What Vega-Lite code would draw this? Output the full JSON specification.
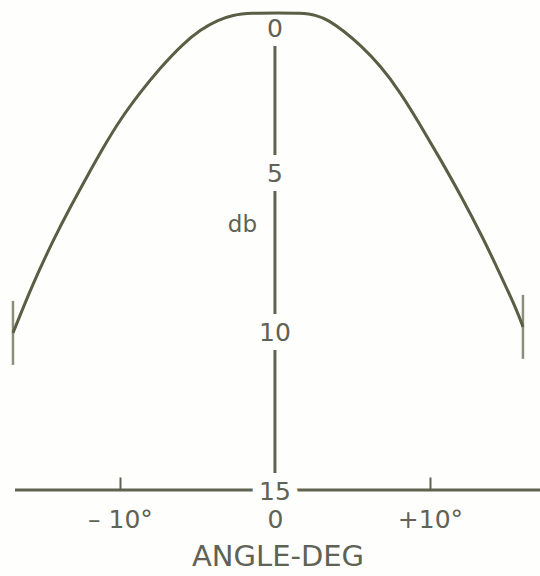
{
  "$schema": "https://vega.github.io/schema/vega-lite/v6.json",
  "width": 525,
  "height": 490,
  "autosize": {"type": "none"},
  "padding": {"left": 15, "top": 0, "right": 0, "bottom": 86},
  "background": "#fefefc",
  "config": {"view": {"stroke": null}, "font": "DejaVu Sans"},
  "data": {"values": [{}]},
  "datasets": {
    "curve": [
      {"angle": -16.9, "db": 10.06},
      {"angle": -15.6, "db": 8.49},
      {"angle": -14.3, "db": 7.14},
      {"angle": -13.2, "db": 6.1},
      {"angle": -12.1, "db": 5.12},
      {"angle": -11.1, "db": 4.25},
      {"angle": -10.0, "db": 3.36},
      {"angle": -8.7, "db": 2.5},
      {"angle": -7.4, "db": 1.72},
      {"angle": -5.9, "db": 0.95},
      {"angle": -4.8, "db": 0.52},
      {"angle": -3.7, "db": 0.22},
      {"angle": -2.7, "db": 0.06},
      {"angle": -1.6, "db": 0.0},
      {"angle": 0.3, "db": 0.0},
      {"angle": 1.6, "db": 0.0},
      {"angle": 2.7, "db": 0.06},
      {"angle": 3.5, "db": 0.24},
      {"angle": 4.4, "db": 0.55},
      {"angle": 5.5, "db": 1.0},
      {"angle": 6.8, "db": 1.65},
      {"angle": 8.1, "db": 2.5},
      {"angle": 9.35, "db": 3.5},
      {"angle": 10.65, "db": 4.58},
      {"angle": 11.95, "db": 5.7},
      {"angle": 13.4, "db": 7.05},
      {"angle": 14.5, "db": 8.18},
      {"angle": 15.6, "db": 9.34},
      {"angle": 16.0, "db": 9.87}
    ],
    "labels": [
      {"db": 0, "label": "0"},
      {"db": 5, "label": "5"},
      {"db": 10, "label": "10"},
      {"db": 15, "label": "15"}
    ]
  },
  "layer": [
    {
      "mark": {"type": "rule", "stroke": "#5f634f", "strokeWidth": 3},
      "encoding": {
        "y": {"datum": 15, "type": "quantitative", "scale": {"domain": [-0.41, 15], "reverse": true, "nice": false, "zero": false}, "axis": null}
      }
    },
    {
      "mark": {"type": "rule", "stroke": "#5f634f", "strokeWidth": 3},
      "encoding": {
        "x": {"datum": 0, "type": "quantitative", "scale": {"domain": [-16.77, 17.1], "nice": false, "zero": false},
          "axis": {"title": "ANGLE-DEG", "values": [-10, 0, 10], "domain": false, "grid": false, "zindex": 1,
            "labelExpr": "datum.value < 0 ? '– 10°' : datum.value > 0 ? '+10°' : '0'",
            "tickSize": -13, "tickWidth": 2, "tickColor": "#5f634f",
            "tickOpacity": {"condition": {"test": "datum.value === 0", "value": 0}, "value": 1},
            "labelFontSize": 25, "labelColor": "#5f6255", "labelPadding": 30, "labelFont": "DejaVu Sans",
            "titleFontSize": 29, "titleFontWeight": "normal", "titleColor": "#5f6255", "titlePadding": 10, "titleFont": "DejaVu Sans"}},
        "y": {"datum": 0, "type": "quantitative", "scale": {"domain": [-0.41, 15], "reverse": true, "nice": false, "zero": false}, "axis": null},
        "y2": {"datum": 15}
      }
    },
    {
      "data": {"name": "labels"},
      "transform": [{"filter": "datum.db > 0"}],
      "encoding": {
        "x": {"datum": 0, "type": "quantitative", "scale": {"domain": [-16.77, 17.1], "nice": false, "zero": false},
          "axis": {"title": "ANGLE-DEG", "values": [-10, 0, 10], "domain": false, "grid": false, "zindex": 1,
            "labelExpr": "datum.value < 0 ? '– 10°' : datum.value > 0 ? '+10°' : '0'",
            "tickSize": -13, "tickWidth": 2, "tickColor": "#5f634f",
            "tickOpacity": {"condition": {"test": "datum.value === 0", "value": 0}, "value": 1},
            "labelFontSize": 25, "labelColor": "#5f6255", "labelPadding": 30, "labelFont": "DejaVu Sans",
            "titleFontSize": 29, "titleFontWeight": "normal", "titleColor": "#5f6255", "titlePadding": 10, "titleFont": "DejaVu Sans"}},
        "y": {"field": "db", "type": "quantitative", "scale": {"domain": [-0.41, 15], "reverse": true, "nice": false, "zero": false}, "axis": null},
        "text": {"field": "label"}
      },
      "layer": [
        {"mark": {"type": "text", "fontSize": 25, "baseline": "middle", "dy": 2, "fill": "#fefefc", "stroke": "#fefefc", "strokeWidth": 18}},
        {"mark": {"type": "text", "fontSize": 25, "baseline": "middle", "dy": 2, "fill": "#5f6255"}}
      ]
    },
    {
      "data": {"name": "labels"},
      "transform": [{"filter": "datum.db === 0"}],
      "encoding": {
        "x": {"datum": 0, "type": "quantitative", "scale": {"domain": [-16.77, 17.1], "nice": false, "zero": false},
          "axis": {"title": "ANGLE-DEG", "values": [-10, 0, 10], "domain": false, "grid": false, "zindex": 1,
            "labelExpr": "datum.value < 0 ? '– 10°' : datum.value > 0 ? '+10°' : '0'",
            "tickSize": -13, "tickWidth": 2, "tickColor": "#5f634f",
            "tickOpacity": {"condition": {"test": "datum.value === 0", "value": 0}, "value": 1},
            "labelFontSize": 25, "labelColor": "#5f6255", "labelPadding": 30, "labelFont": "DejaVu Sans",
            "titleFontSize": 29, "titleFontWeight": "normal", "titleColor": "#5f6255", "titlePadding": 10, "titleFont": "DejaVu Sans"}},
        "y": {"field": "db", "type": "quantitative", "scale": {"domain": [-0.41, 15], "reverse": true, "nice": false, "zero": false}, "axis": null},
        "text": {"field": "label"}
      },
      "layer": [
        {"mark": {"type": "text", "fontSize": 25, "baseline": "middle", "dy": 16, "fill": "#fefefc", "stroke": "#fefefc", "strokeWidth": 18}},
        {"mark": {"type": "text", "fontSize": 25, "baseline": "middle", "dy": 16, "fill": "#5f6255"}}
      ]
    },
    {
      "data": {"name": "curve"},
      "mark": {"type": "line", "interpolate": "basis", "stroke": "#595e44", "strokeWidth": 3},
      "encoding": {
        "x": {"field": "angle", "type": "quantitative", "scale": {"domain": [-16.77, 17.1], "nice": false, "zero": false},
          "axis": {"title": "ANGLE-DEG", "values": [-10, 0, 10], "domain": false, "grid": false, "zindex": 1,
            "labelExpr": "datum.value < 0 ? '– 10°' : datum.value > 0 ? '+10°' : '0'",
            "tickSize": -13, "tickWidth": 2, "tickColor": "#5f634f",
            "tickOpacity": {"condition": {"test": "datum.value === 0", "value": 0}, "value": 1},
            "labelFontSize": 25, "labelColor": "#5f6255", "labelPadding": 30, "labelFont": "DejaVu Sans",
            "titleFontSize": 29, "titleFontWeight": "normal", "titleColor": "#5f6255", "titlePadding": 10, "titleFont": "DejaVu Sans"}},
        "y": {"field": "db", "type": "quantitative", "scale": {"domain": [-0.41, 15], "reverse": true, "nice": false, "zero": false}, "axis": null}
      }
    },
    {
      "data": {"name": "curve"},
      "transform": [{"filter": "abs(datum.angle) > 15.8"}],
      "mark": {"type": "tick", "orient": "vertical", "size": 64, "thickness": 2.5, "color": "#595e44"},
      "encoding": {
        "x": {"field": "angle", "type": "quantitative", "scale": {"domain": [-16.77, 17.1], "nice": false, "zero": false},
          "axis": {"title": "ANGLE-DEG", "values": [-10, 0, 10], "domain": false, "grid": false, "zindex": 1,
            "labelExpr": "datum.value < 0 ? '– 10°' : datum.value > 0 ? '+10°' : '0'",
            "tickSize": -13, "tickWidth": 2, "tickColor": "#5f634f",
            "tickOpacity": {"condition": {"test": "datum.value === 0", "value": 0}, "value": 1},
            "labelFontSize": 25, "labelColor": "#5f6255", "labelPadding": 30, "labelFont": "DejaVu Sans",
            "titleFontSize": 29, "titleFontWeight": "normal", "titleColor": "#5f6255", "titlePadding": 10, "titleFont": "DejaVu Sans"}},
        "y": {"field": "db", "type": "quantitative", "scale": {"domain": [-0.41, 15], "reverse": true, "nice": false, "zero": false}, "axis": null}
      }
    },
    {
      "mark": {"type": "text", "text": "db", "fontSize": 23, "baseline": "middle", "align": "center", "fill": "#5f6255"},
      "encoding": {
        "x": {"datum": -2.1, "type": "quantitative", "scale": {"domain": [-16.77, 17.1], "nice": false, "zero": false},
          "axis": {"title": "ANGLE-DEG", "values": [-10, 0, 10], "domain": false, "grid": false, "zindex": 1,
            "labelExpr": "datum.value < 0 ? '– 10°' : datum.value > 0 ? '+10°' : '0'",
            "tickSize": -13, "tickWidth": 2, "tickColor": "#5f634f",
            "tickOpacity": {"condition": {"test": "datum.value === 0", "value": 0}, "value": 1},
            "labelFontSize": 25, "labelColor": "#5f6255", "labelPadding": 30, "labelFont": "DejaVu Sans",
            "titleFontSize": 29, "titleFontWeight": "normal", "titleColor": "#5f6255", "titlePadding": 10, "titleFont": "DejaVu Sans"}},
        "y": {"datum": 6.67, "type": "quantitative", "scale": {"domain": [-0.41, 15], "reverse": true, "nice": false, "zero": false}, "axis": null}
      }
    }
  ]
}
